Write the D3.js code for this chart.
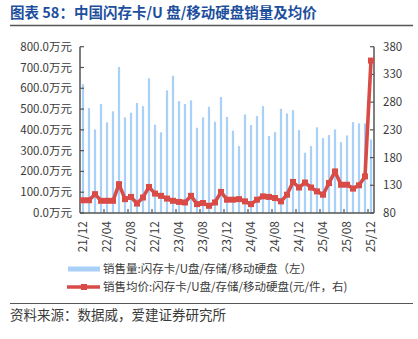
<!DOCTYPE html>
<html>
<head>
<meta charset="utf-8">
<script src="https://cdn.jsdelivr.net/npm/d3@7"></script>
<style>
  body { margin: 0; background: #fff; }
  text { font-family: "Noto Sans CJK SC", "Noto Sans", sans-serif; fill: #3a3a3a; }
</style>
</head>
<body>
<svg id="chart"></svg>
<script>
// monthly sales volume (万件, left) and average price (元/件, right)
var months = [
  "21/12", "22/01", "22/02", "22/03", "22/04", "22/05", "22/06", "22/07", "22/08", "22/09", "22/10", "22/11",
  "22/12", "23/01", "23/02", "23/03", "23/04", "23/05", "23/06", "23/07", "23/08", "23/09", "23/10", "23/11",
  "23/12", "24/01", "24/02", "24/03", "24/04", "24/05", "24/06", "24/07", "24/08", "24/09", "24/10", "24/11",
  "24/12", "25/01", "25/02", "25/03", "25/04", "25/05", "25/06", "25/07", "25/08", "25/09", "25/10", "25/11",
  "25/12"
];
var volume = [
  620, 505, 402, 524, 436, 489, 703, 460, 482, 529, 514, 648,
  425, 388, 590, 660, 538, 524, 542, 410, 460, 511, 439, 558,
  462, 396, 322, 474, 423, 466, 514, 370, 389, 501, 479, 495,
  399, 290, 322, 412, 360, 375, 402, 341, 373, 437, 431, 431,
  354
];
var price = [
  103, 103, 114, 102, 102, 102, 132, 105, 109, 97, 108, 127,
  115, 111, 106, 102, 100, 99, 111, 96, 98, 93, 99, 118,
  104, 104, 105, 101, 96, 104, 110, 109, 107, 101, 113, 136,
  126, 135, 126, 119, 113, 134, 155, 131, 131, 124, 130, 146,
  355
];
var leftTicks = [0, 100, 200, 300, 400, 500, 600, 700, 800];
var rightTicks = [80, 130, 180, 230, 280, 330, 380];

var screen = { width: 418, height: 339 };
var margins = { top: 46.7, left: 80, right: 44, bottom: 126 };
var graph = {
  width: screen.width - margins.left - margins.right,
  height: screen.height - margins.top - margins.bottom
};

var svg = d3.select("#chart").attr("width", screen.width).attr("height", screen.height);

// title + rule
svg.append("text")
  .text("图表 58：中国闪存卡/U 盘/移动硬盘销量及均价")
  .attr("x", 10).attr("y", 18)
  .style("font-size", "14.5px").style("font-weight", "bold")
  .style("fill", "#1d4f9e");
svg.append("line")
  .attr("x1", 10).attr("x2", 413).attr("y1", 25.5).attr("y2", 25.5)
  .attr("stroke", "#555").attr("stroke-width", 1.5);

var xScale = d3.scaleBand().domain(months).range([margins.left, margins.left + graph.width]);
var yLeft = d3.scaleLinear().domain([0, 800]).range([margins.top + graph.height, margins.top]);
var yRight = d3.scaleLinear().domain([80, 380]).range([margins.top + graph.height, margins.top]);
var bottom = margins.top + graph.height;
var right = margins.left + graph.width;

// bars
svg.append("g").selectAll("rect")
  .data(volume)
  .enter()
  .append("rect")
  .attr("x", function (d, i) { return xScale(months[i]) + xScale.bandwidth() / 2 - 1.1; })
  .attr("width", 2.2)
  .attr("y", function (d) { return yLeft(d); })
  .attr("height", function (d) { return bottom - yLeft(d); })
  .attr("fill", "#a9d0f6");

// axes
var axisColor = "#555";
var axes = svg.append("g");
axes.append("line").attr("x1", margins.left).attr("x2", margins.left)
  .attr("y1", margins.top).attr("y2", bottom).attr("stroke", axisColor).attr("stroke-width", 1.5);
axes.append("line").attr("x1", right).attr("x2", right)
  .attr("y1", margins.top).attr("y2", bottom).attr("stroke", axisColor).attr("stroke-width", 1.5);
axes.append("line").attr("x1", margins.left).attr("x2", right)
  .attr("y1", bottom).attr("y2", bottom).attr("stroke", axisColor).attr("stroke-width", 1.5);

leftTicks.forEach(function (t) {
  var y = yLeft(t);
  axes.append("line").attr("x1", margins.left).attr("x2", margins.left + 4)
    .attr("y1", y).attr("y2", y).attr("stroke", axisColor).attr("stroke-width", 1.2);
  axes.append("text").text(t.toFixed(1) + "万元")
    .attr("x", 72).attr("y", y).attr("dy", "0.35em")
    .attr("text-anchor", "end").style("font-size", "11.5px");
});
rightTicks.forEach(function (t) {
  var y = yRight(t);
  axes.append("line").attr("x1", right - 4).attr("x2", right)
    .attr("y1", y).attr("y2", y).attr("stroke", axisColor).attr("stroke-width", 1.2);
  axes.append("text").text(t)
    .attr("x", 383).attr("y", y).attr("dy", "0.35em")
    .style("font-size", "11.5px");
});
months.forEach(function (m, i) {
  if (i % 4 !== 0) return;
  var xb = xScale(m);
  if (i > 0) {
    axes.append("line").attr("x1", xb).attr("x2", xb)
      .attr("y1", bottom - 4).attr("y2", bottom).attr("stroke", axisColor).attr("stroke-width", 1.2);
  }
  var cx = xb + xScale.bandwidth() / 2;
  axes.append("text").text(m)
    .attr("transform", "translate(" + cx + "," + (bottom + 8) + ") rotate(-90)")
    .attr("text-anchor", "end").attr("dy", "0.35em")
    .style("font-size", "12px");
});

// price line
var line = d3.line()
  .x(function (d, i) { return xScale(months[i]) + xScale.bandwidth() / 2; })
  .y(function (d) { return yRight(d); });
var red = "#d94b46";
svg.append("path").datum(price)
  .attr("d", line).attr("fill", "none")
  .attr("stroke", red).attr("stroke-width", 3.6).attr("stroke-linejoin", "round");
svg.append("g").selectAll("rect")
  .data(price)
  .enter()
  .append("rect")
  .attr("x", function (d, i) { return xScale(months[i]) + xScale.bandwidth() / 2 - 3; })
  .attr("y", function (d) { return yRight(d) - 3; })
  .attr("width", 6).attr("height", 6)
  .attr("fill", red);

// legend
var legend = svg.append("g");
legend.append("rect").attr("x", 68).attr("y", 266.5).attr("width", 32).attr("height", 5).attr("fill", "#a9d0f6");
legend.append("text").text("销售量:闪存卡/U盘/存储/移动硬盘（左）")
  .attr("x", 103).attr("y", 269).attr("dy", "0.35em").style("font-size", "11.5px");
legend.append("line").attr("x1", 67).attr("x2", 100).attr("y1", 287).attr("y2", 287)
  .attr("stroke", red).attr("stroke-width", 3.6);
legend.append("rect").attr("x", 81).attr("y", 284).attr("width", 6).attr("height", 6).attr("fill", red);
legend.append("text").text("销售均价:闪存卡/U盘/存储/移动硬盘(元/件，右)")
  .attr("x", 103).attr("y", 287).attr("dy", "0.35em").style("font-size", "11.5px");

// source
svg.append("line")
  .attr("x1", 10).attr("x2", 413).attr("y1", 303.5).attr("y2", 303.5)
  .attr("stroke", "#555").attr("stroke-width", 1.2);
svg.append("text").text("资料来源：数据威，爱建证券研究所")
  .attr("x", 10).attr("y", 315).attr("dy", "0.35em").style("font-size", "13.5px");
</script>
</body>
</html>
